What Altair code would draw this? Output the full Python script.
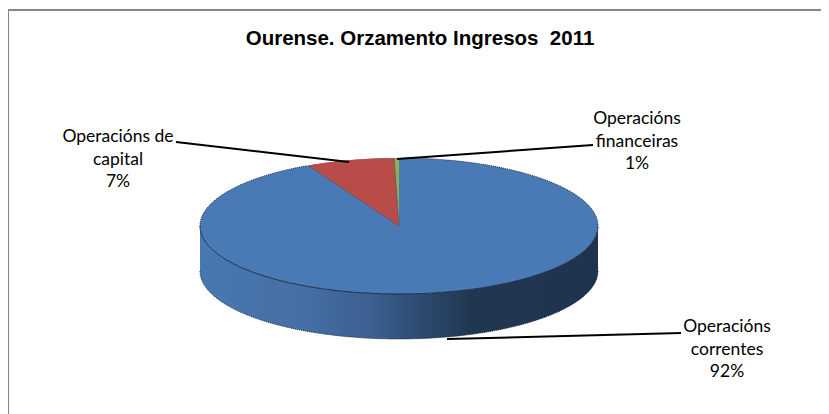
import numpy as np
import pandas as pd
import altair as alt

# ---- chart values
categories = ["Operacións correntes", "Operacións de capital", "Operacións financeiras"]
shares = [92.45, 7.15, 0.4]          # slice sizes as drawn
title_text = "Ourense. Orzamento Ingresos\u00a0\u00a02011"
label_lines = [
    ["Operacións", "correntes", "92%"],
    ["Operacións de", "capital", "7%"],
    ["Operacións", "financeiras", "1%"],
]

# ---- styles and layout
W, H = 813, 406
TOP_BLUE, RED, GREEN = "#4a7ab5", "#b94c48", "#8fb04f"
EDGE = "#1c2c44"
FRAME = "#868686"
DEPTH = 45 / 68
x_scale = alt.Scale(domain=[-1, 1], range=[192, 590], nice=False, zero=False)
y_scale = alt.Scale(domain=[-1, 1], range=[286, 150], nice=False, zero=False)
X = lambda f: alt.X(f, type="quantitative", scale=x_scale, axis=None)
Y = lambda f: alt.Y(f, type="quantitative", scale=y_scale, axis=None)
label_anchor = [(719, 319), (110, 129), (629, 111)]
line_step = 22.5
leaders = [
    [(673, 325), (439, 331)],
    [(168, 134), (341, 154)],
    [(585, 137), (389, 151)],
]

# ---- geometry derived from the shares
t = np.linspace(0, np.pi, 241)
xs = -np.cos(t)
upper = np.sqrt(np.clip(1 - xs**2, 0, 1))
top_df = pd.DataFrame({"x": xs, "y": upper, "y2": -upper})
side_df = pd.DataFrame({"x": xs, "y": -upper, "y2": -upper - DEPTH})
front_df = pd.DataFrame({"x": xs, "y": -upper})
back_df = pd.DataFrame({"x": xs, "y": upper})
under_df = pd.DataFrame({"x": xs, "y": -upper - DEPTH})

def wedge(start_share, share):
    a = 2 * np.pi * (start_share + share) / 100
    xe, ye = -np.sin(a), np.cos(a)
    x = xe * (1 - np.linspace(0, 1, 60))
    return pd.DataFrame({"x": x, "y": np.sqrt(1 - x**2), "y2": x * ye / xe}), xe, ye

red_df, rx, ry = wedge(shares[2], shares[1])
green_df, gx, gy = wedge(0, shares[2])
seam_df = pd.DataFrame({"x": [rx, 0, gx], "y": [ry, 0, gy]})

gradient = alt.Gradient(
    gradient="linear", x1=0, x2=1, y1=0, y2=0,
    stops=[
        alt.GradientStop(offset=0, color="#4877b1"),
        alt.GradientStop(offset=0.25, color="#4570a5"),
        alt.GradientStop(offset=0.43, color="#3c6090"),
        alt.GradientStop(offset=0.54, color="#2e4d73"),
        alt.GradientStop(offset=0.68, color="#21374f"),
        alt.GradientStop(offset=1, color="#1f3350"),
    ],
)

layers = []
# frame (runs off the right and bottom of the picture)
layers.append(alt.Chart(pd.DataFrame({"k": [0]})).mark_rect(color=FRAME).encode(
    x=alt.value(0), x2=alt.value(W), y=alt.value(1), y2=alt.value(3)))
layers.append(alt.Chart(pd.DataFrame({"k": [0]})).mark_rect(color=FRAME).encode(
    x=alt.value(0), x2=alt.value(1), y=alt.value(1), y2=alt.value(H)))

# pie body
layers.append(alt.Chart(side_df).mark_area(color=gradient, stroke=None).encode(
    x=X("x"), y=Y("y"), y2="y2"))
layers.append(alt.Chart(under_df).mark_line(color=EDGE, strokeWidth=1, strokeDash=[1, 1]).encode(
    x=X("x"), y=Y("y"), order="x"))
layers.append(alt.Chart(top_df).mark_area(color=TOP_BLUE).encode(
    x=X("x"), y=Y("y"), y2="y2"))
layers.append(alt.Chart(red_df).mark_area(color=RED).encode(
    x=X("x"), y=Y("y"), y2="y2"))
layers.append(alt.Chart(green_df).mark_area(color=GREEN).encode(
    x=X("x"), y=Y("y"), y2="y2"))
layers.append(alt.Chart(seam_df.reset_index()).mark_line(color="#5c5560", strokeWidth=0.8).encode(
    x=X("x"), y=Y("y"), order="index"))
layers.append(alt.Chart(front_df).mark_line(color=EDGE, strokeWidth=1).encode(
    x=X("x"), y=Y("y"), order="x"))
layers.append(alt.Chart(back_df[back_df.x > 0]).mark_line(color=EDGE, strokeWidth=1, strokeDash=[1, 1]).encode(
    x=X("x"), y=Y("y"), order="x"))
layers.append(alt.Chart(back_df[back_df.x < rx]).mark_line(color=EDGE, strokeWidth=1, strokeDash=[1, 1]).encode(
    x=X("x"), y=Y("y"), order="x"))

# leader lines
leader_rows = [
    {"group": categories[i], "seq": j, "px": p[0], "py": p[1]}
    for i, seg in enumerate(leaders) for j, p in enumerate(seg)
]
layers.append(alt.Chart(pd.DataFrame(leader_rows)).mark_line(color="black", strokeWidth=2).encode(
    x=alt.X("px:Q", scale=None, axis=None),
    y=alt.Y("py:Q", scale=None, axis=None),
    detail="group:N", order="seq:Q"))

# labels
text_rows = [
    {"txt": line, "px": label_anchor[i][0], "py": label_anchor[i][1] + j * line_step}
    for i, lines in enumerate(label_lines) for j, line in enumerate(lines)
]
layers.append(alt.Chart(pd.DataFrame(text_rows)).mark_text(
    font="Lato", fontSize=17.5, color="black", align="center", baseline="middle").encode(
    x=alt.X("px:Q", scale=None, axis=None),
    y=alt.Y("py:Q", scale=None, axis=None),
    text="txt:N"))

# title
layers.append(alt.Chart(pd.DataFrame({"txt": [title_text]})).mark_text(
    font="Liberation Sans", fontSize=20.5, fontWeight="bold", color="black",
    align="center", baseline="middle").encode(
    x=alt.value(412), y=alt.value(30.5), text="txt:N"))

chart = alt.layer(*layers).resolve_scale(x="independent", y="independent").properties(
    width=W, height=H, padding=0,
    autosize=alt.AutoSizeParams(type="none"), background="white",
).configure_view(stroke=None)

chart.save("out.html", embed_options={"renderer": "svg", "actions": False})
